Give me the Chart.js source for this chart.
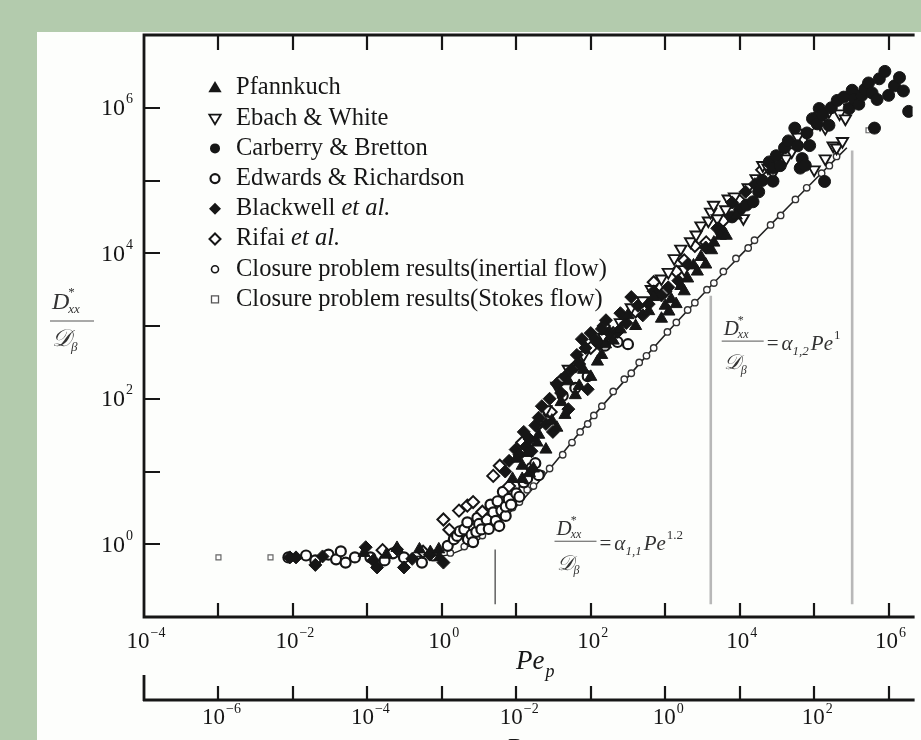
<!DOCTYPE html>
<html>
<head>
<meta charset="utf-8">
<title>Dispersion vs Peclet</title>
<script src="https://cdn.jsdelivr.net/npm/chart.js@4.4.1/dist/chart.umd.min.js"></script>
<style>
  html, body { margin: 0; padding: 0; background: #b3cbad; overflow: hidden; }
  #panel { position: absolute; left: 37px; top: 32px; width: 884px; height: 708px; background: #fdfefc; }
  #wrap { position: absolute; left: 0; top: 0; width: 921px; height: 740px; }
</style>
</head>
<body>
<div id="panel"></div>
<div id="wrap"><canvas id="chart" width="921" height="740"></canvas></div>
<script>
// data: [Pe_p, D*xx / D_beta]
const pfannkuch = [
  [0.09, 0.76], [0.18, 0.72], [0.25, 0.89], [0.5, 0.85], [0.7, 0.78], [0.91, 0.85], [0.93, 0.66],
  [8.9, 7.9], [10, 15], [12, 7.9], [12, 12], [14, 18], [15, 9.5], [17, 11], [19, 25], [20, 32],
  [25, 20], [30, 50], [35, 40], [40, 90], [45, 60], [50, 174], [62, 112], [70, 150], [80, 250],
  [100, 200], [123, 324], [140, 400], [158, 560], [180, 700], [200, 630], [250, 900], [316, 1410],
  [400, 1000], [600, 1600], [700, 2500], [890, 1260], [1000, 1900], [1120, 1580], [1200, 2340],
  [1400, 2000], [1620, 3550], [1800, 3000], [2000, 4500], [2400, 6800], [2700, 5600], [3020, 8900],
  [3500, 7000], [4200, 11000], [4500, 14000], [5500, 17400], [6600, 17400], [9000, 33000]
];
const ebachWhite = [
  [25, 71], [35, 150], [50, 257], [80, 400], [150, 700], [250, 1120], [350, 1800], [500, 2240],
  [650, 3200], [890, 4470], [1100, 5500], [1320, 8500], [1620, 11500], [1800, 6000], [2190, 14500],
  [2600, 18000], [3020, 24000], [3800, 28000], [4070, 37000], [4470, 46000], [5000, 30000],
  [6500, 40000], [7000, 56000], [8500, 60000], [11200, 30200], [13000, 80000], [16600, 107000],
  [20400, 162000], [24000, 150000], [28000, 126000], [33000, 220000], [42000, 200000],
  [50000, 250000], [60000, 400000], [80000, 450000], [100000, 141000], [120000, 600000],
  [141000, 200000], [141000, 525000], [158000, 890000], [180000, 300000], [200000, 282000],
  [219000, 830000], [240000, 347000], [263000, 708000], [300000, 1000000]
];
const carberryBretton = [
  [5600, 20000], [7900, 31600], [10000, 40000], [12300, 46000], [15100, 51000], [18000, 70000],
  [20000, 100000], [25000, 180000], [28000, 98000], [28000, 148000], [31000, 219000],
  [35000, 160000], [40000, 282000], [45000, 350000], [55000, 525000], [60000, 300000],
  [65000, 148000], [69000, 200000], [76000, 162000], [80000, 450000], [87000, 302000],
  [95000, 708000], [110000, 600000], [117000, 977000], [130000, 800000], [138000, 97000],
  [158000, 575000], [170000, 1000000], [204000, 1260000], [250000, 1400000], [295000, 977000],
  [324000, 1740000], [350000, 1300000], [398000, 1120000], [437000, 1480000], [480000, 1800000],
  [537000, 2190000], [600000, 1600000], [646000, 525000], [700000, 1300000], [750000, 2500000],
  [891000, 3160000], [1000000, 1480000], [1200000, 2000000], [1400000, 2600000],
  [1580000, 1700000], [1860000, 891000]
];
const edwardsRichardson = [
  [0.0087, 0.66], [0.015, 0.7], [0.02, 0.6], [0.03, 0.72], [0.038, 0.62], [0.044, 0.8],
  [0.051, 0.56], [0.068, 0.66], [0.11, 0.66], [0.17, 0.6], [0.22, 0.75], [0.31, 0.66],
  [0.54, 0.56], [0.75, 0.7],
  [1.2, 0.95], [1.45, 1.17], [1.6, 1.3], [1.74, 1.51], [2.0, 1.6], [2.2, 2.0], [2.24, 1.17],
  [2.5, 1.35], [2.63, 1.07], [2.9, 1.48], [3.0, 2.3], [3.16, 1.9], [3.4, 1.6], [3.8, 2.7],
  [4.0, 2.19], [4.27, 1.62], [4.5, 3.5], [4.9, 2.75], [5.3, 2.1], [5.6, 3.9], [5.9, 1.78],
  [6.3, 2.9], [6.6, 5.25], [7.2, 2.45], [7.2, 3.3], [7.9, 4.2], [8.5, 3.5], [9.5, 6.3], [10, 5],
  [11, 4.5], [12.6, 7.1], [14, 8], [16, 11.2], [18, 13], [20, 8.9], [27, 66], [42, 110],
  [62, 141], [91, 204], [155, 537], [229, 603], [316, 562]
];
const blackwell = [
  [0.0091, 0.66], [0.011, 0.66], [0.02, 0.52], [0.025, 0.68], [0.095, 0.91], [0.12, 0.6],
  [0.135, 0.48], [0.25, 0.85], [0.31, 0.48], [0.4, 0.63], [0.69, 0.72], [1.05, 0.56],
  [7.1, 10], [8, 14], [9.8, 20], [11, 17], [12.6, 35], [13.5, 22], [15, 28], [16, 19], [18, 43],
  [20, 55], [22, 79], [25, 45], [28, 100], [31, 35], [35, 160], [40, 120], [45, 200], [50, 72],
  [55, 250], [65, 400], [70, 300], [76, 660], [85, 500], [91, 135], [100, 800], [115, 660],
  [130, 560], [141, 910], [160, 1200], [180, 800], [230, 830], [250, 1500], [300, 1100],
  [350, 2500], [430, 1900], [500, 1400], [600, 2000], [700, 3000], [890, 2630], [1100, 3400],
  [1500, 4200], [2000, 7000], [3500, 12000], [5000, 22000], [7900, 50000], [12000, 70000],
  [16000, 89000]
];
const rifai = [
  [0.16, 0.83], [0.56, 0.79], [1.05, 2.19], [1.26, 1.58], [1.7, 2.9], [2.2, 3.4], [2.63, 3.8],
  [3.5, 2.8], [4.9, 8.7], [6, 12], [8, 6.3], [12, 25], [20, 45], [29, 66], [40, 180], [63, 282],
  [100, 500], [150, 1000], [200, 794], [400, 1580], [700, 4000], [1000, 3000], [1410, 5600],
  [1800, 8000], [2500, 12600], [3550, 14100], [6000, 28000], [10000, 52500], [20000, 140000],
  [50000, 316000], [100000, 700000]
];
const closureInertial = [
  [1.3, 0.76], [2.0, 0.93], [2.6, 1.03], [3.5, 1.32], [4.2, 1.55], [5.6, 2.14], [7, 2.4],
  [8.9, 3.2], [11, 3.8], [14, 5.6], [17, 6.3], [22, 9.3], [28, 11], [42, 17], [56, 25], [72, 35],
  [91, 45], [110, 59], [141, 79], [200, 126], [282, 186], [350, 224], [447, 316], [560, 389],
  [700, 500], [1070, 830], [1410, 1120], [2000, 1660], [2500, 2090], [3630, 3160], [4500, 3890],
  [6030, 5620], [8900, 8500], [13000, 11800], [15800, 15100], [26000, 24500], [35500, 33100],
  [56000, 55000], [79400, 79400], [126000, 126000], [160000, 160000], [200000, 214000]
];
const closureStokes = [[0.001, 0.66], [0.005, 0.66], [537000, 490000]];

// solid closure curve
const modelPe = [0.16, 1, 2, 3.16, 5, 10, 31.6, 100, 316, 1000, 3160, 10000, 31600, 100000, 275000];
const modelD = [0.68, 0.69, 0.87, 1.17, 1.78, 3.3, 12.6, 52.5, 200, 760, 2690, 9120, 30200, 100000, 282000];

// vertical regime markers
const markerPe = [5.2, 4090, 324000];
const markerTop = [0.85, 2610, 259000];
const markerBottom = [0.15, 0.15, 0.15];

// axes
const xTicks = [1e-3, 1e-2, 1e-1, 1, 10, 100, 1e3, 1e4, 1e5, 1e6];
const xLabels = [[1e-4, '\u22124'], [1e-2, '\u22122'], [1, '0'], [100, '2'], [1e4, '4'], [1e6, '6']];
const yTicks = [1, 10, 100, 1e3, 1e4, 1e5, 1e6];
const yLabels = [[1, '0'], [100, '2'], [1e4, '4'], [1e6, '6']];
const reTicks = [1e-6, 1e-5, 1e-4, 1e-3, 1e-2, 1e-1, 1, 10, 100, 1e3];
const reLabels = [[1e-6, '\u22126'], [1e-4, '\u22124'], [1e-2, '\u22122'], [1, '0'], [100, '2']];

const ink = '#161616';
const serif = '"Liberation Serif", "Times New Roman", "DejaVu Serif", serif';
const font = (size, italic) => (italic ? 'italic ' : '') + size + 'px ' + serif;

const toPts = arr => arr.map(p => ({ x: p[0], y: p[1] }));

function refLine(i) {
  return {
    data: [{ x: markerPe[i], y: markerBottom[i] }, { x: markerPe[i], y: markerTop[i] }],
    showLine: true, pointRadius: 0,
    borderColor: i === 0 ? '#555' : '#b8b8b8',
    borderWidth: i === 0 ? 1.4 : 2.6,
    order: 30
  };
}

function pow10(ctx, exp, x, y, size, align) {
  ctx.font = font(size);
  const wb = ctx.measureText('10').width;
  const ss = Math.round(size * 0.6);
  ctx.font = font(ss);
  const we = ctx.measureText(exp).width;
  const x0 = align === 'right' ? x - wb - we - 1 : x - (wb + we + 1) / 2;
  ctx.textAlign = 'left';
  ctx.textBaseline = 'middle';
  ctx.font = font(size);
  ctx.fillText('10', x0, y);
  ctx.font = font(ss);
  ctx.fillText(exp, x0 + wb + 1, y - size * 0.38);
}

// D*xx over D_beta; (x, y) = left end of the fraction bar
function frac(ctx, x, y, size, w, up, down) {
  const sub = Math.round(size * 0.55);
  ctx.textAlign = 'left';
  ctx.textBaseline = 'alphabetic';
  ctx.font = font(size, true);
  ctx.fillText('D', x + 2, y - up);
  const wd = ctx.measureText('D').width;
  ctx.font = font(sub);
  ctx.fillText('*', x + wd + 1, y - up - size * 0.55);
  ctx.font = font(sub, true);
  ctx.fillText('xx', x + wd + 1, y - up + size * 0.15);
  ctx.lineWidth = 1;
  ctx.beginPath();
  ctx.moveTo(x, y);
  ctx.lineTo(x + w, y);
  ctx.stroke();
  ctx.font = font(size, true);
  ctx.fillText('\u{1D49F}', x + 2, y + down);
  const wd2 = ctx.measureText('\u{1D49F}').width;
  ctx.font = font(sub, true);
  ctx.fillText('\u03B2', x + wd2 + 2, y + down + size * 0.2);
}

function equation(ctx, x, y, size, sub, sup) {
  const w = size * 2;
  frac(ctx, x, y, size, w, 6, size * 1.35);
  const small = Math.round(size * 0.6);
  let cx = x + w + 3;
  ctx.textBaseline = 'middle';
  ctx.font = font(size);
  ctx.fillText('=', cx, y + 3);
  cx += ctx.measureText('=').width + 3;
  ctx.font = font(size, true);
  ctx.fillText('\u03B1', cx, y + 3);
  cx += ctx.measureText('\u03B1').width;
  ctx.font = font(small, true);
  ctx.fillText(sub, cx, y + 10);
  cx += ctx.measureText(sub).width + 2;
  ctx.font = font(size, true);
  ctx.fillText('Pe', cx, y + 3);
  cx += ctx.measureText('Pe').width + 1;
  ctx.font = font(small);
  ctx.fillText(sup, cx, y - 6);
}

function legendMark(ctx, kind, x, y, r) {
  ctx.beginPath();
  if (kind === 'up') {
    ctx.moveTo(x, y - r); ctx.lineTo(x + r * 0.95, y + r * 0.6); ctx.lineTo(x - r * 0.95, y + r * 0.6); ctx.closePath();
  } else if (kind === 'down') {
    ctx.moveTo(x, y + r); ctx.lineTo(x + r * 0.95, y - r * 0.6); ctx.lineTo(x - r * 0.95, y - r * 0.6); ctx.closePath();
  } else if (kind === 'dia' || kind === 'diaOpen') {
    ctx.moveTo(x, y - r); ctx.lineTo(x + r, y); ctx.lineTo(x, y + r); ctx.lineTo(x - r, y); ctx.closePath();
  } else if (kind === 'sq') {
    ctx.rect(x - r, y - r, 2 * r, 2 * r);
  } else {
    ctx.arc(x, y, r, 0, Math.PI * 2);
  }
}

const legendItems = [
  { text: 'Pfannkuch', kind: 'up', r: 7, fill: true },
  { text: 'Ebach & White', kind: 'down', r: 6, fill: false, lw: 1.8 },
  { text: 'Carberry & Bretton', kind: 'dot', r: 5, fill: true },
  { text: 'Edwards & Richardson', kind: 'ring', r: 4.5, fill: false, lw: 2.2 },
  { text: 'Blackwell ', italic: 'et al.', kind: 'dia', r: 6, fill: true },
  { text: 'Rifai ', italic: 'et al.', kind: 'diaOpen', r: 5.5, fill: false, lw: 2 },
  { text: 'Closure problem results(inertial flow)', kind: 'small', r: 3.5, fill: false, lw: 1.6 },
  { text: 'Closure problem results(Stokes flow)', kind: 'sq', r: 3.5, fill: false, lw: 1.3, color: '#555' }
];

const decor = {
  id: 'decor',
  afterDatasetsDraw(chart) {
    const { ctx, chartArea: a, scales } = chart;
    const xs = scales.x, ys = scales.y, rs = scales.x2;
    ctx.save();
    ctx.strokeStyle = ink;
    ctx.fillStyle = ink;

    // frame
    ctx.lineWidth = 2.8;
    ctx.beginPath();
    ctx.moveTo(a.right + 2, a.top);
    ctx.lineTo(a.left, a.top);
    ctx.lineTo(a.left, a.bottom);
    ctx.lineTo(a.right + 2, a.bottom);
    ctx.stroke();

    ctx.lineWidth = 2.2;
    ctx.beginPath();
    xTicks.forEach(v => {
      const px = Math.round(xs.getPixelForValue(v));
      ctx.moveTo(px, a.top); ctx.lineTo(px, a.top + 15);
      ctx.moveTo(px, a.bottom); ctx.lineTo(px, a.bottom - 14);
    });
    yTicks.forEach(v => {
      const py = Math.round(ys.getPixelForValue(v));
      ctx.moveTo(a.left, py); ctx.lineTo(a.left + 16, py);
    });
    ctx.stroke();

    xLabels.forEach(([v, e]) => pow10(ctx, e, xs.getPixelForValue(v) + 2, 642, 23));
    yLabels.forEach(([v, e]) => pow10(ctx, e, 133, ys.getPixelForValue(v) + 1, 24, 'right'));

    // Reynolds axis underneath
    const ry = 700;
    ctx.lineWidth = 2.8;
    ctx.beginPath();
    ctx.moveTo(a.left - 1, ry); ctx.lineTo(a.right + 2, ry);
    ctx.moveTo(a.left, ry + 1); ctx.lineTo(a.left, ry - 25);
    ctx.stroke();
    ctx.lineWidth = 2.2;
    ctx.beginPath();
    reTicks.forEach(v => {
      const px = Math.round(rs.getPixelForValue(v));
      ctx.moveTo(px, ry); ctx.lineTo(px, ry - 14);
    });
    ctx.stroke();
    reLabels.forEach(([v, e]) => pow10(ctx, e, rs.getPixelForValue(v) + 3, 718, 23));

    // axis titles
    ctx.textAlign = 'left';
    ctx.textBaseline = 'middle';
    ctx.font = font(27, true);
    ctx.fillText('Pe', 516, 662);
    const wpe = ctx.measureText('Pe').width;
    ctx.font = font(18, true);
    ctx.fillText('p', 516 + wpe + 1, 672);
    ctx.font = font(27, true);
    ctx.textBaseline = 'alphabetic';
    ctx.fillText('Re', 506, 757);

    ctx.fillStyle = '#333';
    ctx.strokeStyle = '#555';
    frac(ctx, 50, 321, 24, 44, 12, 25);

    // regime equations
    equation(ctx, xs.getPixelForValue(31.6) + 1, ys.getPixelForValue(1.1), 21, '1,1', '1.2');
    equation(ctx, xs.getPixelForValue(5560) + 1, ys.getPixelForValue(620), 21, '1,2', '1');

    // legend
    legendItems.forEach((it, i) => {
      const y = 88 + i * 30.2;
      ctx.lineWidth = it.lw || 1;
      ctx.strokeStyle = it.color || ink;
      ctx.fillStyle = it.fill ? ink : '#fff';
      legendMark(ctx, it.kind, 215, y, it.r);
      ctx.fill();
      if (!it.fill) ctx.stroke();
      ctx.fillStyle = ink;
      ctx.textAlign = 'left';
      ctx.textBaseline = 'middle';
      ctx.font = font(24.5);
      ctx.fillText(it.text, 236, y);
      if (it.italic) {
        const w = ctx.measureText(it.text).width;
        ctx.font = font(24.5, true);
        ctx.fillText(it.italic, 236 + w, y);
      }
    });
    ctx.restore();
  }
};

const ctx = document.getElementById('chart').getContext('2d');
new Chart(ctx, {
  type: 'scatter',
  data: {
    datasets: [
      { label: 'Pfannkuch', data: toPts(pfannkuch), pointStyle: 'triangle', pointRadius: 7,
        backgroundColor: ink, borderColor: ink, borderWidth: 1, order: 1 },
      { label: 'Carberry & Bretton', data: toPts(carberryBretton), pointStyle: 'circle', pointRadius: 6,
        backgroundColor: ink, borderColor: ink, borderWidth: 1, order: 2 },
      { label: 'Blackwell et al.', data: toPts(blackwell), pointStyle: 'rectRot', pointRadius: 6.5,
        backgroundColor: ink, borderColor: ink, borderWidth: 1, order: 3 },
      { label: 'Ebach & White', data: toPts(ebachWhite), pointStyle: 'triangle', rotation: 180, pointRadius: 6.5,
        backgroundColor: '#fff', borderColor: ink, borderWidth: 1.9, order: 4 },
      { label: 'Rifai et al.', data: toPts(rifai), pointStyle: 'rectRot', pointRadius: 6,
        backgroundColor: '#fff', borderColor: ink, borderWidth: 2, order: 5 },
      { label: 'Edwards & Richardson', data: toPts(edwardsRichardson), pointStyle: 'circle', pointRadius: 5,
        backgroundColor: '#fff', borderColor: ink, borderWidth: 2.2, order: 6 },
      { label: 'Closure problem results (inertial flow)', data: toPts(closureInertial), pointStyle: 'circle',
        pointRadius: 3.2, backgroundColor: '#fff', borderColor: '#333', borderWidth: 1.4, order: 7 },
      { label: 'Closure problem results (Stokes flow)', data: toPts(closureStokes), pointStyle: 'rect',
        pointRadius: 3.5, backgroundColor: '#fff', borderColor: '#666', borderWidth: 1.2, order: 8 },
      { label: 'closure curve', data: modelPe.map((x, i) => ({ x, y: modelD[i] })), showLine: true,
        pointRadius: 0, borderColor: '#222', borderWidth: 1.6, cubicInterpolationMode: 'monotone', order: 20 },
      refLine(0), refLine(1), refLine(2)
    ]
  },
  options: {
    responsive: false,
    devicePixelRatio: 1,
    animation: false,
    layout: { padding: { left: 144, top: 35, right: 0, bottom: 123 } },
    plugins: { legend: { display: false }, tooltip: { enabled: false } },
    scales: {
      x: { type: 'logarithmic', min: 1e-4, max: 2.1e6, display: false },
      y: { type: 'logarithmic', min: 0.1, max: 1e7, display: false },
      x2: { type: 'logarithmic', axis: 'x', min: 1e-7, max: 2.1e3, display: false }
    }
  },
  plugins: [decor]
});
</script>
</body>
</html>
